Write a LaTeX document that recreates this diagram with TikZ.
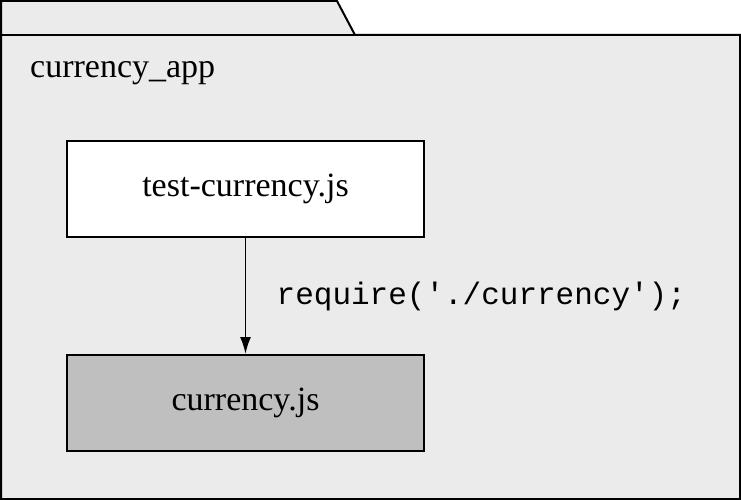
\documentclass[tikz,border=0pt]{standalone}
\usepackage{fontspec}
\setmainfont{Liberation Serif}
\setmonofont{Liberation Mono}
\usetikzlibrary{arrows.meta}
\begin{document}
\begin{tikzpicture}[x=1pt,y=-1pt,
  box/.style={draw,line width=2pt,minimum width=357pt,minimum height=96pt,inner sep=0pt,font=\fontsize{34}{38}\selectfont},
  lab/.style={font=\fontsize{34}{38}\selectfont}]
\useasboundingbox (0,0) rectangle (741,500);
\draw[line width=2pt,fill=black!8] (1,35) -- (1,1) -- (337,1) -- (355,35) -- (740,35) -- (740,499) -- (1,499) -- cycle;
\draw[line width=2pt] (1,35) -- (355,35);
\node[lab,anchor=west,inner sep=0pt] (app) at (30,73) {currency\_app};
\node[box,fill=white] (test) at (245.5,189) {test-currency.js};
\node[box,fill=black!25] (cur) at (245.5,403) {currency.js};
\draw[line width=1.8pt,-{Latex[length=17pt,width=11pt]}] (test) -- (cur) node[midway,right=27pt,font=\ttfamily\fontsize{31}{34}\selectfont] (req) {require('./currency');};
\end{tikzpicture}
\end{document}
